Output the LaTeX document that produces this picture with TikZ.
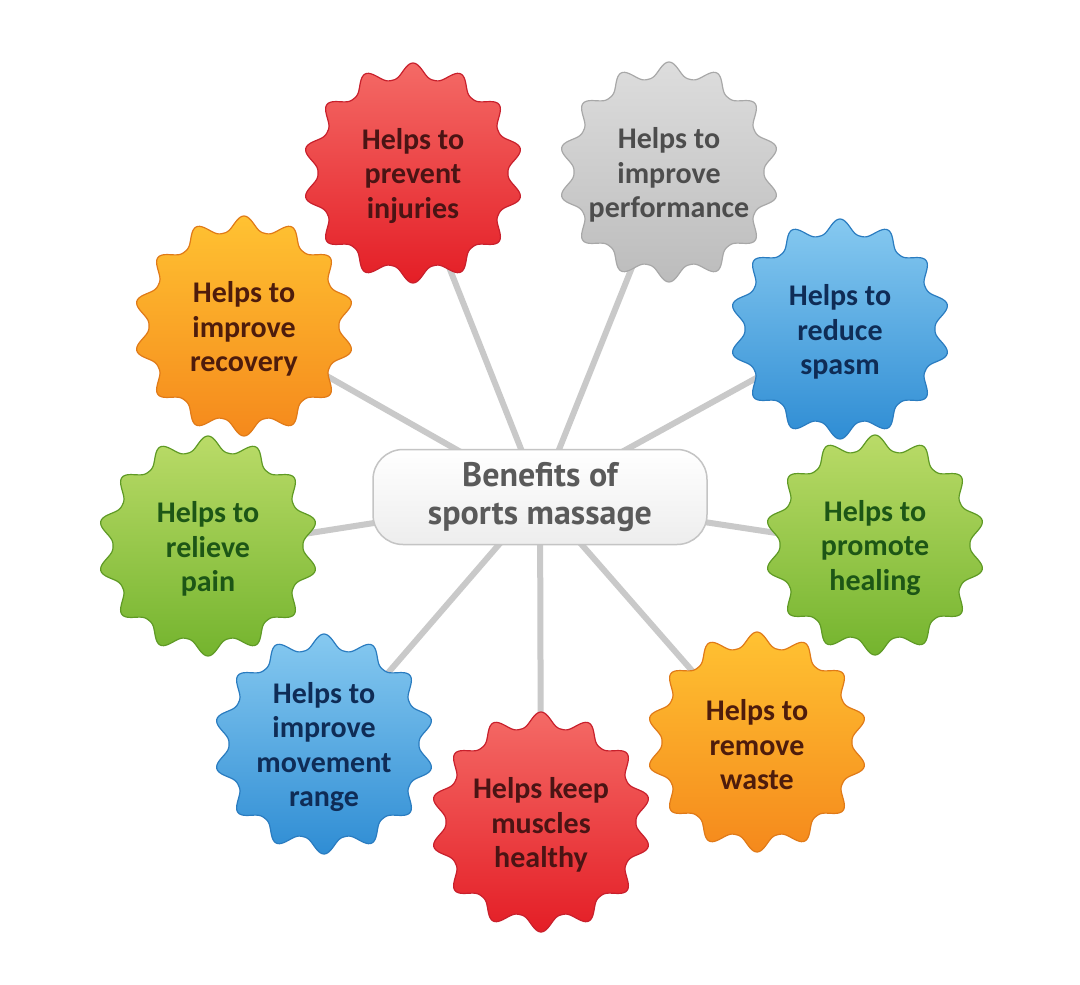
\documentclass[tikz,border=0pt]{standalone}
\usepackage{fontspec}
\setmainfont{Carlito}
\newfontfamily\centerfont{PT Sans}
\usetikzlibrary{backgrounds}
\definecolor{redT}{HTML}{F46A66}\definecolor{redB}{HTML}{E41E26}\definecolor{redD}{HTML}{C8202C}\definecolor{redX}{HTML}{4A1414}
\definecolor{grayT}{HTML}{DDDDDD}\definecolor{grayB}{HTML}{BCBCBC}\definecolor{grayD}{HTML}{A8A8A8}\definecolor{grayX}{HTML}{4D4D4D}
\definecolor{bluT}{HTML}{86C9F0}\definecolor{bluB}{HTML}{2F8DD4}\definecolor{bluD}{HTML}{2A7CC0}\definecolor{bluX}{HTML}{0F2C56}
\definecolor{grnT}{HTML}{BADB68}\definecolor{grnB}{HTML}{74B42E}\definecolor{grnD}{HTML}{5F9A25}\definecolor{grnX}{HTML}{1D5616}
\definecolor{orgT}{HTML}{FFC232}\definecolor{orgB}{HTML}{F5891C}\definecolor{orgD}{HTML}{E07A18}\definecolor{orgX}{HTML}{4E1C0C}
\definecolor{linkC}{HTML}{C9C9C9}
\definecolor{hubD}{HTML}{C4C4C4}
\definecolor{hubX}{HTML}{5A5A5A}
\tikzset{
  startext/.style={align=center, inner sep=0pt, font=\bfseries\fontsize{30}{34.5}\selectfont},
  hub/.style={draw=hubD, line width=1.5pt, rounded corners=30pt, top color=white, bottom color=black!7,
    minimum width=334pt, minimum height=95pt, inner sep=0pt, align=center, text=hubX,
    font=\centerfont\bfseries\fontsize{34}{38}\selectfont},
  link/.style={draw=linkC, line width=6pt}
}
% #1 x, #2 y, #3 name, #4 colour prefix, #5 text
\newcommand{\mystar}[5]{%
  \shade[top color=#4T, bottom color=#4B, draw=#4D, line width=1.2pt, shift={(#1,#2)}]
    plot[domain=0:360, samples=421] (\x:{95+15*((1+cos(14*(\x-90)))/2)^1.4}) -- cycle;
  \node[startext, text=#4X] (#3) at (#1,#2+3) {#5};
}
\begin{document}
\begin{tikzpicture}[x=1pt,y=-1pt]
\useasboundingbox (0,0) rectangle (1080,985);
\node[hub] (c) at (540,497) {Benefits of\\sports massage};
\mystar{413}{173}{s1}{red}{Helps to\\prevent\\injuries}
\mystar{669}{172}{s2}{gray}{Helps to\\improve\\performance}
\mystar{840}{329}{s3}{blu}{Helps to\\reduce\\spasm}
\mystar{875}{545}{s4}{grn}{Helps to\\promote\\healing}
\mystar{757}{742}{s5}{org}{Helps to\\remove\\waste}
\mystar{541}{822}{s6}{red}{Helps keep\\muscles\\healthy}
\mystar{324}{744}{s7}{blu}{Helps to\\improve\\movement\\range}
\mystar{208}{546}{s8}{grn}{Helps to\\relieve\\pain}
\mystar{244}{326}{s9}{org}{Helps to\\improve\\recovery}
\begin{pgfonlayer}{background}
  \fill[white] (0,0) rectangle (1080,985);
  \foreach \s in {s1,s2,s3,s4,s5,s6,s7,s8,s9}
    \draw[link] (c.center) -- (\s.center);
\end{pgfonlayer}
\end{tikzpicture}
\end{document}
